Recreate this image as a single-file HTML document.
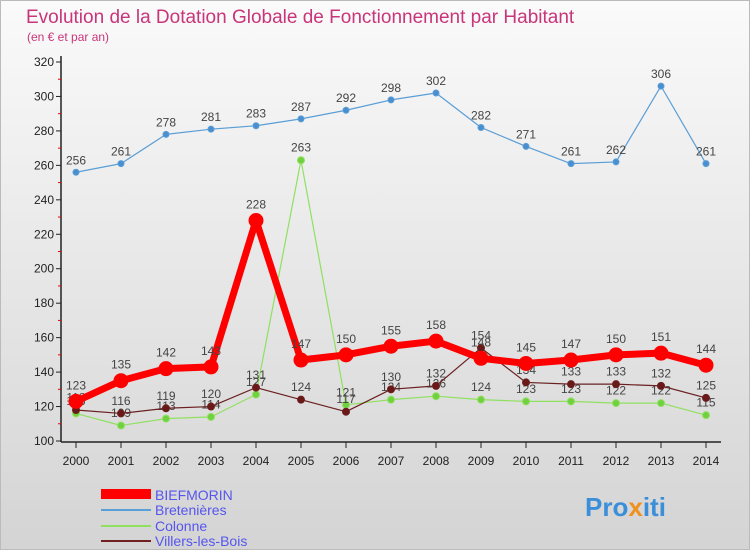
<!DOCTYPE html>
<html><head><meta charset="utf-8"><style>
body{margin:0;width:750px;height:550px;overflow:hidden;font-family:"Liberation Sans",sans-serif}
#c{width:748px;height:548px;border:1px solid #bbb;background:linear-gradient(#fafafa,#d4d4d4);position:relative}
</style></head><body>
<div id="c">
<svg id="s" width="748" height="548" xmlns="http://www.w3.org/2000/svg" font-family="Liberation Sans, sans-serif">
<text x="25" y="22" font-size="19" fill="#c8357a">Evolution de la Dotation Globale de Fonctionnement par Habitant</text>
<text x="26" y="40" font-size="12" fill="#c8357a">(en € et par an)</text>
<g id="axes"></g><g id="series"></g>
<g>
<rect x="100" y="488" width="50" height="10" fill="#ff0000"/>
<text x="154" y="499" font-size="14" fill="#5555ee">BIEFMORIN</text>
<line x1="100" y1="509" x2="150" y2="509" stroke="#5aa0d8" stroke-width="2"/>
<text x="154" y="514" font-size="14" fill="#5555ee">Bretenières</text>
<line x1="100" y1="525" x2="150" y2="525" stroke="#90e060" stroke-width="2"/>
<text x="154" y="530" font-size="14" fill="#5555ee">Colonne</text>
<line x1="100" y1="540" x2="150" y2="540" stroke="#702020" stroke-width="2"/>
<text x="154" y="545" font-size="14" fill="#5555ee">Villers-les-Bois</text>
</g>
<text x="584" y="515" font-size="26" font-weight="bold" fill="#3a8fd8">Pro<tspan fill="#f09020">x</tspan>iti</text>
</svg></div>
<script>
const years=[2000,2001,2002,2003,2004,2005,2006,2007,2008,2009,2010,2011,2012,2013,2014];
const yTicks=[100,120,140,160,180,200,220,240,260,280,300,320];
const biefmorin=[123,135,142,143,228,147,150,155,158,148,145,147,150,151,144];
const bretenieres=[256,261,278,281,283,287,292,298,302,282,271,261,262,306,261];
const colonne=[116,109,113,114,127,263,121,124,126,124,123,123,122,122,115];
const villers=[118,116,119,120,131,124,117,130,132,154,134,133,133,132,125];
const NS="http://www.w3.org/2000/svg";
const X=i=>75+i*45, Y=v=>440-(v-100)*(379/220);
function mk(t,a,p){const e=document.createElementNS(NS,t);for(const k in a)e.setAttribute(k,a[k]);p.appendChild(e);return e;}
const ax=document.getElementById('axes');
let l=mk('line',{x1:60,y1:55,x2:60,y2:441,stroke:'#222','stroke-width':1.5},ax);


l=mk('line',{x1:60,y1:441,x2:720,y2:441,stroke:'#222','stroke-width':1.5},ax);


yTicks.forEach((v,i)=>{
 mk('line',{x1:55,y1:Y(v),x2:60,y2:Y(v),stroke:'#222'},ax);
 if(i<yTicks.length-1)mk('line',{x1:57,y1:Y(v+10),x2:60,y2:Y(v+10),stroke:'#e00'},ax);
 const t=mk('text',{x:53,y:Y(v)+4,'font-size':12,'text-anchor':'end',fill:'#222'},ax);t.textContent=v;
 
 
});
years.forEach((y,i)=>{
 mk('line',{x1:X(i),y1:441,x2:X(i),y2:447,stroke:'#222'},ax);
 const t=mk('text',{x:X(i),y:464,'font-size':12,'text-anchor':'middle',fill:'#222'},ax);t.textContent=y;
 
 
});
const sg=document.getElementById('series');
function series(data,color,lw,r,name,fill){
 const g=mk('g',{},sg);
 
 
 const p=mk('polyline',{points:data.map((v,i)=>X(i)+','+Y(v)).join(' '),fill:'none',stroke:color,'stroke-width':lw,'stroke-linejoin':'round'},g);
 
 
 data.forEach((v,i)=>{
  const c=mk('circle',{cx:X(i),cy:Y(v),r:r,fill:fill,stroke:color,'stroke-width':1},g);
  
  
  const t=mk('text',{x:X(i),y:Y(v)-r-5,'font-size':12,'text-anchor':'middle',fill:'#444'},g);t.textContent=v;
  
  
 });
}
series(bretenieres,'#5a9ed6',1.2,3,'bretenieres','#4a8ed0');
series(colonne,'#90e060',1.2,3.5,'colonne','#70d040');
series(villers,'#6a2020',1.2,3.5,'villers','#6a1818');
series(biefmorin,'#ff0000',7,7,'biefmorin','#ff0000');
</script>
</body></html>
